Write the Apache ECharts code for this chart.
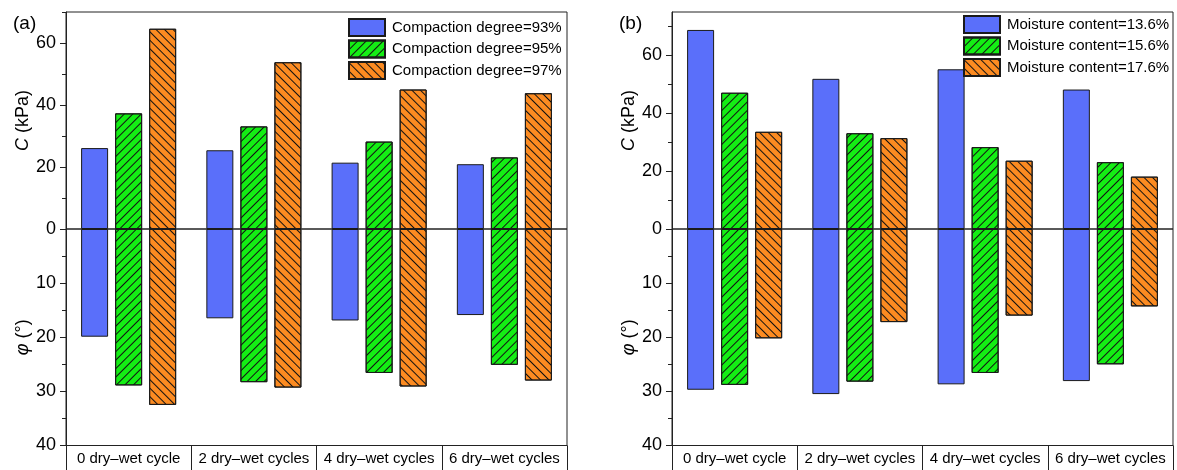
<!DOCTYPE html>
<html>
<head>
<meta charset="utf-8">
<script src="https://cdn.jsdelivr.net/npm/echarts@6/dist/echarts.min.js"></script>
<style>
html, body { margin: 0; padding: 0; background: #fff; }
#chart { width: 1177px; height: 470px; }
</style>
</head>
<body>
<div id="chart"></div>
<script>
var categories = ['0 dry\u2013wet cycle', '2 dry\u2013wet cycles', '4 dry\u2013wet cycles', '6 dry\u2013wet cycles'];

// (a) compaction degree
var namesA = ['Compaction degree=93%', 'Compaction degree=95%', 'Compaction degree=97%'];
var cohesionA93 = [26.1, 25.4, 21.4, 20.9];
var cohesionA95 = [37.3, 33.1, 28.2, 23.1];
var cohesionA97 = [64.6, 53.8, 45.0, 43.8];
var frictionA93 = [19.9, 16.5, 16.9, 15.9];
var frictionA95 = [28.9, 28.3, 26.6, 25.1];
var frictionA97 = [32.5, 29.3, 29.1, 28.0];

// (b) moisture content
var namesB = ['Moisture content=13.6%', 'Moisture content=15.6%', 'Moisture content=17.6%'];
var cohesionB136 = [68.8, 51.9, 55.2, 48.2];
var cohesionB156 = [47.1, 33.1, 28.3, 23.1];
var cohesionB176 = [33.6, 31.4, 23.6, 18.1];
var frictionB136 = [29.7, 30.5, 28.7, 28.1];
var frictionB156 = [28.8, 28.2, 26.6, 25.0];
var frictionB176 = [20.2, 17.2, 16.0, 14.3];

// tick labels
var cMajorTicks = [0, 20, 40, 60];
var cMinorTicks = [10, 30, 50, 70];
var phiMajorTicks = [0, 10, 20, 30, 40];
var phiLabels = [10, 20, 30, 40];
var phiMinorTicks = [5, 15, 25, 35];

var FONT = 'Liberation Sans, Arial, sans-serif';
var colors = ['#5a6ffa', '#14ee14', '#fc8b21'];
var decals = [
    null,
    {symbol: 'rect', symbolSize: 1, dashArrayX: [1, 0], dashArrayY: [1, 5], rotation: -Math.PI / 4, color: '#111'},
    {symbol: 'rect', symbolSize: 1, dashArrayX: [1, 0], dashArrayY: [1, 5], rotation: Math.PI / 4, color: '#111'}
];

var option = {
    backgroundColor: '#fff',
    animation: false,
    title: [],
    legend: [],
    grid: [],
    xAxis: [],
    yAxis: [],
    series: []
};

function addPanel(left, label, names, cohesion, friction, cMax, legendLeft, legendTop) {
    var top = 12, zero = 229, bottom = 445.5, width = 501;
    option.title.push({
        text: label, left: left - 58, top: 9,
        textStyle: {fontFamily: FONT, fontSize: 19, fontWeight: 'normal', color: '#000'}
    });
    option.legend.push({
        data: names, orient: 'vertical', left: legendLeft, top: legendTop, icon: 'rect',
        itemWidth: 36, itemHeight: 17, itemGap: 2.5, padding: 0,
        textStyle: {fontFamily: FONT, fontSize: 15, color: '#000', padding: [0, 0, 0, 2]}
    });
    var gu = option.grid.length;
    option.grid.push({left: left, top: top, width: width, height: zero - top, show: true, borderColor: '#222', borderWidth: 1});
    option.grid.push({left: left, top: zero, width: width, height: bottom - zero, show: true, borderColor: '#222', borderWidth: 1});

    var xu = option.xAxis.length;
    option.xAxis.push({
        type: 'category', gridIndex: gu, data: categories,
        axisLine: {show: false}, axisTick: {show: false}, axisLabel: {show: false}
    });
    option.xAxis.push({
        type: 'category', gridIndex: gu + 1, data: categories, position: 'bottom',
        axisLine: {show: true, onZero: false, lineStyle: {color: '#222', width: 1}},
        axisTick: {show: true, interval: 0, length: 26, lineStyle: {color: '#222', width: 1}},
        axisLabel: {interval: 0, margin: 6, fontFamily: FONT, fontSize: 15, color: '#000'}
    });

    var yu = option.yAxis.length;
    var nameStyle = {fontFamily: FONT, fontSize: 18, color: '#000',
        rich: {i: {fontFamily: FONT, fontSize: 18, fontStyle: 'italic', color: '#000'}}};
    // upper major
    option.yAxis.push({
        type: 'value', gridIndex: gu, min: 0, max: cMax, position: 'left',
        name: '{i|C} (kPa)', nameLocation: 'middle', nameGap: 31, nameRotate: 90, nameTextStyle: nameStyle,
        axisLine: {show: true, onZero: false, lineStyle: {color: '#222', width: 1}},
        splitLine: {show: false},
        axisTick: {show: true, length: 6, customValues: cMajorTicks, lineStyle: {color: '#222'}},
        axisLabel: {customValues: cMajorTicks, margin: 10, fontFamily: FONT, fontSize: 18, color: '#000'}
    });
    // upper minor
    option.yAxis.push({
        type: 'value', gridIndex: gu, min: 0, max: cMax, position: 'left', offset: 0,
        axisLine: {show: false, onZero: false}, splitLine: {show: false}, axisLabel: {show: false},
        axisTick: {show: true, length: 4, customValues: cMinorTicks, lineStyle: {color: '#222'}}
    });
    // lower major
    option.yAxis.push({
        type: 'value', gridIndex: gu + 1, min: 0, max: 40, inverse: true, position: 'left',
        name: '{i|\u03c6} (\u00b0)', nameLocation: 'middle', nameGap: 31, nameRotate: 90, nameTextStyle: nameStyle,
        axisLine: {show: true, onZero: false, lineStyle: {color: '#222', width: 1}},
        splitLine: {show: false},
        axisTick: {show: true, length: 6, customValues: phiMajorTicks, lineStyle: {color: '#222'}},
        axisLabel: {customValues: phiLabels, margin: 10, fontFamily: FONT, fontSize: 18, color: '#000'}
    });
    // lower minor
    option.yAxis.push({
        type: 'value', gridIndex: gu + 1, min: 0, max: 40, inverse: true, position: 'left', offset: 0,
        axisLine: {show: false, onZero: false}, splitLine: {show: false}, axisLabel: {show: false},
        axisTick: {show: true, length: 4, customValues: phiMinorTicks, lineStyle: {color: '#222'}}
    });

    for (var k = 0; k < 3; k++) {
        var style = {color: colors[k], borderColor: '#1a1a1a', borderWidth: 1};
        if (decals[k]) style.decal = decals[k];
        option.series.push({
            name: names[k], type: 'bar', xAxisIndex: xu, yAxisIndex: yu,
            data: cohesion[k], barWidth: 27, barGap: '26%', itemStyle: style
        });
        option.series.push({
            name: names[k], type: 'bar', xAxisIndex: xu + 1, yAxisIndex: yu + 2,
            data: friction[k], barWidth: 27, barGap: '26%', itemStyle: style
        });
    }
}

addPanel(66, '(a)', namesA, [cohesionA93, cohesionA95, cohesionA97], [frictionA93, frictionA95, frictionA97], 70, 348, 18);
addPanel(672, '(b)', namesB, [cohesionB136, cohesionB156, cohesionB176], [frictionB136, frictionB156, frictionB176], 75, 963, 15);

var myChart = echarts.init(document.getElementById('chart'));
myChart.setOption(option);
</script>
</body>
</html>
